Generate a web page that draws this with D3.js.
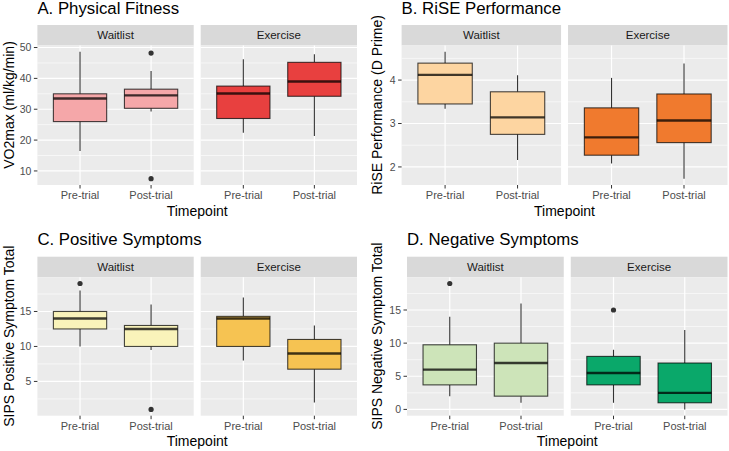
<!DOCTYPE html>
<html>
<head>
<meta charset="utf-8">
<script src="https://cdn.jsdelivr.net/npm/d3@7"></script>
<style>
  body { margin: 0; background: #fff; }
  svg { display: block; font-family: 'Liberation Sans', Arial, sans-serif; }
</style>
</head>
<body>
<script>
// facets and categories
const groups = ['Waitlist', 'Exercise']
const timepoints = ['Pre-trial', 'Post-trial']

// box stats per group/timepoint: [lower whisker, q1, median, q3, upper whisker]
// order: Waitlist Pre, Waitlist Post, Exercise Pre, Exercise Post
const fitnessStats = [[16.5, 26, 33.5, 35, 48.6], [29.3, 30.3, 34.5, 36.5, 42.4], [22.4, 27, 35.1, 37.5, 46.2], [21.3, 34.2, 39, 45.2, 47.8]]
const fitnessOutliers = [[], [48.2, 7.5], [], []]
const fitnessTicks = [10, 20, 30, 40, 50]

const riseStats = [[3.34, 3.45, 4.12, 4.39, 4.65], [2.16, 2.75, 3.14, 3.73, 4.11], [2.08, 2.27, 2.68, 3.36, 4.05], [1.73, 2.56, 3.07, 3.68, 4.38]]
const riseOutliers = [[], [], [], []]
const riseTicks = [2, 3, 4]

const posStats = [[10, 12.5, 14, 15, 18], [9.5, 10, 12.5, 13, 16], [8, 10, 14, 14.3, 17], [2, 6.75, 9, 11, 13]]
const posOutliers = [[19], [1], [], []]
const posTicks = [5, 10, 15]

const negStats = [[2, 3.7, 6, 9.75, 14], [1, 2, 7, 10, 16], [1, 3.7, 5.5, 8, 9], [0, 1, 2.5, 7, 12]]
const negOutliers = [[19], [], [15], []]
const negTicks = [0, 5, 10, 15]

const fills = {
  fitness: ['#f5a7a9', '#e8403f'],
  rise: ['#fdd5a1', '#f07a2e'],
  pos: ['#f9f3ba', '#f6c352'],
  neg: ['#cde4b9', '#0aa86a']
}

const W = 729, H = 451
const svg = d3.select('body').append('svg')
  .attr('width', W)
  .attr('height', H)

const charts = [
  { title: 'A. Physical Fitness', ylab: 'VO2max (ml/kg/min)', stats: fitnessStats, outliers: fitnessOutliers, ticks: fitnessTicks, fill: fills.fitness,
    left: 37.4, right: 357, stripTop: 25, bottom: 185, ylabX: 9 },
  { title: 'B. RiSE Performance', ylab: 'RiSE Performance (D Prime)', stats: riseStats, outliers: riseOutliers, ticks: riseTicks, fill: fills.rise,
    left: 401.6, right: 727.5, stripTop: 25, bottom: 185, ylabX: 377 },
  { title: 'C. Positive Symptoms', ylab: 'SIPS Positive Symptom Total', stats: posStats, outliers: posOutliers, ticks: posTicks, fill: fills.pos,
    left: 37.4, right: 357, stripTop: 256.7, bottom: 415.7, ylabX: 9 },
  { title: 'D. Negative Symptoms', ylab: 'SIPS Negative Symptom Total', stats: negStats, outliers: negOutliers, ticks: negTicks, fill: fills.neg,
    left: 407, right: 727.5, stripTop: 256.7, bottom: 415.7, ylabX: 377 }
]

const drawChart = (c) => {
  let gap = 7,
      stripH = 20.5,
      panelTop = c.stripTop + stripH,
      pw = (c.right - c.left - gap) / 2

  // y extent incl. outliers, ggplot-style 5% expansion
  let all = d3.merge([d3.merge(c.stats), d3.merge(c.outliers)])
  let [lo, hi] = d3.extent(all)
  let pad = (hi - lo) * 0.05
  let y = d3.scaleLinear().domain([lo - pad, hi + pad]).range([c.bottom, panelTop])

  let step = c.ticks[1] - c.ticks[0]
  let minor = d3.range(c.ticks[0] - step / 2, hi + pad + step, step)
    .filter(v => v > lo - pad && v < hi + pad)

  let g = svg.append('g')

  g.append('text')
    .attr('x', c.left)
    .attr('y', c.stripTop - 11.5)
    .attr('font-size', 16.8)
    .attr('fill', '#000')
    .text(c.title)

  groups.forEach((grp, gi) => {
    let x0 = c.left + gi * (pw + gap)
    // discrete scale, 0.6 units of padding each side like ggplot
    let x = d3.scalePoint().domain(timepoints)
      .range([x0, x0 + pw])
      .padding(0.6)
    let bw = 0.75 * x.step()

    // strip
    g.append('rect')
      .attr('x', x0).attr('y', c.stripTop)
      .attr('width', pw).attr('height', stripH)
      .attr('fill', '#d9d9d9')
    g.append('text')
      .attr('x', x0 + pw / 2).attr('y', c.stripTop + stripH / 2 + 4)
      .attr('text-anchor', 'middle')
      .attr('font-size', 11.5)
      .attr('fill', '#1a1a1a')
      .text(grp)

    // panel
    g.append('rect')
      .attr('x', x0).attr('y', panelTop)
      .attr('width', pw).attr('height', c.bottom - panelTop)
      .attr('fill', '#ebebeb')

    g.selectAll(null).data(minor).enter()
      .append('line')
      .attr('x1', x0).attr('x2', x0 + pw)
      .attr('y1', d => y(d)).attr('y2', d => y(d))
      .attr('stroke', '#fff').attr('stroke-width', 0.6)
    g.selectAll(null).data(c.ticks).enter()
      .append('line')
      .attr('x1', x0).attr('x2', x0 + pw)
      .attr('y1', d => y(d)).attr('y2', d => y(d))
      .attr('stroke', '#fff').attr('stroke-width', 1.2)
    g.selectAll(null).data(timepoints).enter()
      .append('line')
      .attr('x1', d => x(d)).attr('x2', d => x(d))
      .attr('y1', panelTop).attr('y2', c.bottom)
      .attr('stroke', '#fff').attr('stroke-width', 1.2)

    // x ticks and labels
    g.selectAll(null).data(timepoints).enter()
      .append('line')
      .attr('x1', d => x(d)).attr('x2', d => x(d))
      .attr('y1', c.bottom).attr('y2', c.bottom + 3.5)
      .attr('stroke', '#333').attr('stroke-width', 1)
    g.selectAll(null).data(timepoints).enter()
      .append('text')
      .attr('x', d => x(d)).attr('y', c.bottom + 14)
      .attr('text-anchor', 'middle')
      .attr('font-size', 11)
      .attr('fill', '#4d4d4d')
      .text(d => d)

    // boxes
    timepoints.forEach((tp, ti) => {
      let s = c.stats[gi * 2 + ti],
          out = c.outliers[gi * 2 + ti],
          xc = x(tp)
      g.append('line')
        .attr('x1', xc).attr('x2', xc)
        .attr('y1', y(s[4])).attr('y2', y(s[3]))
        .attr('stroke', '#333').attr('stroke-width', 1.1)
      g.append('line')
        .attr('x1', xc).attr('x2', xc)
        .attr('y1', y(s[1])).attr('y2', y(s[0]))
        .attr('stroke', '#333').attr('stroke-width', 1.1)
      g.append('rect')
        .attr('x', xc - bw / 2).attr('y', y(s[3]))
        .attr('width', bw).attr('height', y(s[1]) - y(s[3]))
        .attr('fill', c.fill[gi])
        .attr('stroke', 'rgba(0,0,0,0.72)').attr('stroke-width', 1.1)
      g.append('line')
        .attr('x1', xc - bw / 2).attr('x2', xc + bw / 2)
        .attr('y1', y(s[2])).attr('y2', y(s[2]))
        .attr('stroke', 'rgba(0,0,0,0.75)').attr('stroke-width', 2.4)
      g.selectAll(null).data(out).enter()
        .append('circle')
        .attr('cx', xc).attr('cy', d => y(d))
        .attr('r', 2.6)
        .attr('fill', '#333')
    })
  })

  // y axis
  g.selectAll(null).data(c.ticks).enter()
    .append('line')
    .attr('x1', c.left - 3.5).attr('x2', c.left)
    .attr('y1', d => y(d)).attr('y2', d => y(d))
    .attr('stroke', '#333').attr('stroke-width', 1)
  g.selectAll(null).data(c.ticks).enter()
    .append('text')
    .attr('x', c.left - 6).attr('y', d => y(d) + 3.8)
    .attr('text-anchor', 'end')
    .attr('font-size', 10.5)
    .attr('fill', '#4d4d4d')
    .text(d => d)

  g.append('text')
    .attr('x', (c.left + c.right) / 2).attr('y', c.bottom + 30.5)
    .attr('text-anchor', 'middle')
    .attr('font-size', 14)
    .text('Timepoint')

  g.append('text')
    .attr('transform', `translate(${c.ylabX + 5},${(c.stripTop + c.bottom) / 2}) rotate(-90)`)
    .attr('text-anchor', 'middle')
    .attr('font-size', 14)
    .text(c.ylab)
}

charts.forEach(drawChart)
</script>
</body>
</html>
